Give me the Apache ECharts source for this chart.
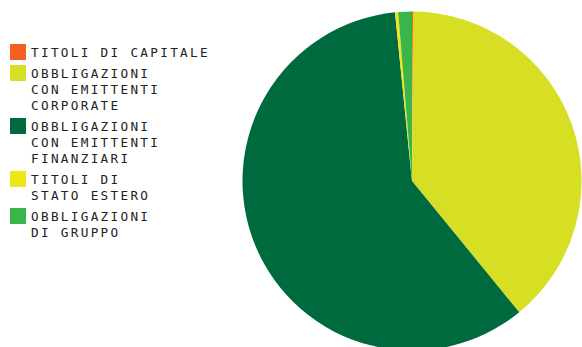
<!DOCTYPE html>
<html>
<head>
<meta charset="utf-8">
<script src="https://cdn.jsdelivr.net/npm/echarts@6/dist/echarts.min.js"></script>
<style>
  html, body { margin: 0; padding: 0; background: #ffffff; }
  #chart { width: 582px; height: 347px; }
  /* wide tracking for the legend captions */
  #chart svg text { letter-spacing: 2.3px; }
</style>
</head>
<body>
<div id="chart"></div>
<script>
// Portfolio breakdown by instrument type (percent)
const categories = [
  'TITOLI DI CAPITALE',
  'OBBLIGAZIONI\nCON EMITTENTI\nCORPORATE',
  'OBBLIGAZIONI\nCON EMITTENTI\nFINANZIARI',
  'TITOLI DI\nSTATO ESTERO',
  'OBBLIGAZIONI\nDI GRUPPO'
];
const shares = [0.1, 39.0, 59.3, 0.3, 1.3];
const colors = ['#F26122', '#D6DF23', '#006A3F', '#EFE61A', '#3BB54A'];

const LINE_H = 16;
const ICON = 16;
const GAP = 5;
const LEGEND_TOP = 44;

// One legend block per category. The swatch path reserves the full caption
// height (trailing move-to) so the square lines up with the first text line.
const legends = [];
let y = LEGEND_TOP;
categories.forEach((name) => {
  const lines = name.split('\n').length;
  const h = lines * LINE_H;
  legends.push({
    data: [name],
    orient: 'vertical',
    left: 10,
    top: y,
    padding: 0,
    itemWidth: ICON,
    itemHeight: h,
    icon: 'path://M0,0H' + ICON + 'V' + ICON + 'H0Z M0,' + h,
    itemStyle: { borderWidth: 0 },
    textStyle: {
      fontFamily: 'DejaVu Sans Mono',
      fontSize: 12.7,
      color: '#222222',
      lineHeight: LINE_H
    }
  });
  y += h + GAP;
});

const chart = echarts.init(document.getElementById('chart'), null, { renderer: 'svg' });
chart.setOption({
  animation: false,
  color: colors,
  legend: legends,
  series: [{
    type: 'pie',
    center: [412, 181],
    radius: 169.5,
    startAngle: 90,
    clockwise: true,
    avoidLabelOverlap: false,
    label: { show: false },
    labelLine: { show: false },
    emphasis: { disabled: true },
    itemStyle: { borderWidth: 0 },
    data: categories.map((name, i) => ({ name: name, value: shares[i] }))
  }]
});
</script>
</body>
</html>
